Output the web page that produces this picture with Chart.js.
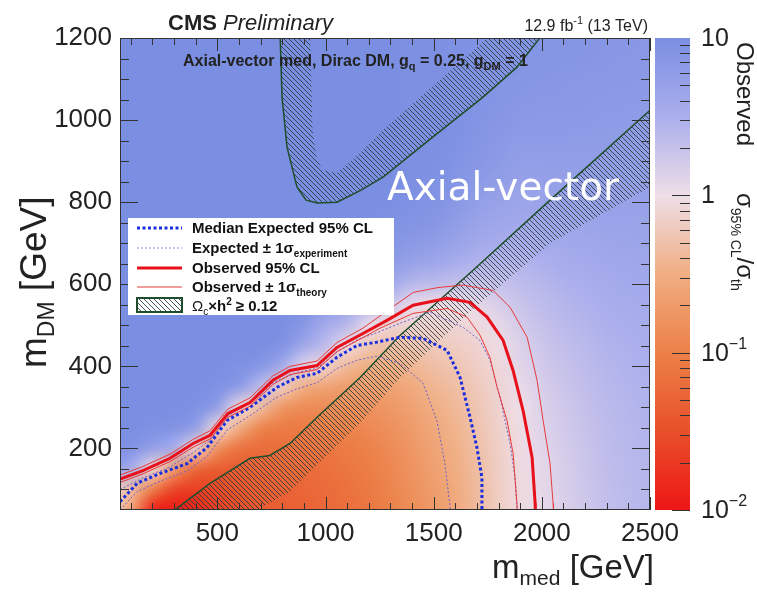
<!DOCTYPE html>
<html>
<head>
<meta charset="utf-8">
<script src="https://cdn.jsdelivr.net/npm/chart.js@4.4.1/dist/chart.umd.min.js"></script>
<style>
  html, body { margin: 0; padding: 0; background: #fff; }
  #wrap { width: 757px; height: 592px; }
</style>
</head>
<body>
<div id="wrap"><canvas id="chart" width="757" height="592"></canvas></div>
<script>
// axis ticks
const xTicks = [500, 1000, 1500, 2000, 2500];
const yTicks = [200, 400, 600, 800, 1000, 1200];
const cbarTicks = [0.01, 0.1, 1, 10];

// observed limit (thick red) and +-1 sigma theory
const obsX = [50, 156, 281, 388, 466, 549, 651, 757, 836, 961, 1053, 1173, 1284, 1405, 1562, 1668, 1747, 1821, 1867, 1913, 1955, 1969, 1970];
const obsY = [125, 146, 176, 212, 232, 285, 312, 366, 390, 402, 446, 480, 512, 549, 566, 556, 520, 463, 390, 293, 178, 66, 45];
const obsUpX = [50, 156, 281, 388, 466, 549, 651, 757, 836, 961, 1053, 1173, 1284, 1405, 1520, 1636, 1774, 1853, 1932, 1978, 2006, 2038, 2052, 2054];
const obsUpY = [135, 156, 186, 222, 243, 296, 323, 377, 400, 413, 458, 493, 535, 580, 592, 598, 585, 544, 471, 366, 268, 163, 66, 45];
const obsDnX = [50, 156, 281, 388, 466, 549, 651, 757, 836, 961, 1053, 1173, 1252, 1405, 1562, 1654, 1714, 1760, 1793, 1839, 1867, 1885, 1886];
const obsDnY = [117, 138, 168, 203, 223, 276, 303, 356, 380, 392, 436, 470, 493, 529, 541, 520, 476, 422, 349, 268, 188, 66, 45];

// expected limit (blue dotted) and +-1 sigma experiment
const expX = [50, 129, 235, 360, 452, 545, 651, 776, 868, 961, 1053, 1146, 1238, 1344, 1451, 1562, 1622, 1668, 1700, 1723, 1723];
const expY = [70, 115, 139, 163, 202, 268, 300, 349, 373, 383, 422, 451, 459, 471, 468, 439, 373, 276, 202, 129, 45];
const expUpX = [50, 156, 281, 388, 466, 549, 651, 757, 868, 961, 1053, 1146, 1238, 1344, 1483, 1636, 1714, 1760, 1807, 1853, 1876, 1885, 1885];
const expUpY = [100, 128, 155, 190, 220, 280, 310, 360, 385, 395, 435, 465, 482, 505, 532, 495, 463, 415, 324, 212, 129, 56, 45];
const expDnX = [50, 129, 235, 360, 452, 545, 651, 776, 868, 961, 1053, 1146, 1238, 1344, 1451, 1515, 1552, 1576, 1577];
const expDnY = [50, 95, 120, 145, 180, 245, 280, 325, 345, 360, 395, 415, 425, 407, 359, 268, 163, 56, 45];

// relic density contours (Omega h^2 >= 0.12), line + hatched side
const relicDiagX = [290, 466, 651, 743, 836, 961, 1160, 1344, 1682, 2038, 2500];
const relicDiagY = [45, 115, 176, 183, 212, 276, 373, 475, 634, 805, 1024];
const relicDiagEdgeX = [2500, 2038, 1682, 1344, 1160, 961, 836, 665];
const relicDiagEdgeY = [837, 700, 540, 372, 262, 160, 95, 45];
const relicVX = [790, 799, 822, 868, 910, 961, 1053, 1160, 1266, 1497, 1728, 1885, 2005];
const relicVY = [1210, 1056, 934, 837, 805, 798, 800, 828, 861, 959, 1056, 1129, 1210];
const relicVEdgeX = [1770, 1266, 1150, 1053, 990, 961, 940, 929];
const relicVEdgeY = [1210, 976, 915, 871, 878, 902, 976, 1210];

// observed sigma95/sigma_th, log10, one column per m_med, rows m_DM = 50..1200
const gridX = [0, 100, 200, 300, 400, 500, 600, 700, 800, 900, 1000, 1100, 1200, 1300, 1400, 1500, 1600, 1700, 1800, 1900, 2000, 2100, 2200, 2300, 2400, 2500];
const gridY = [50, 100, 150, 200, 250, 300, 350, 400, 450, 500, 550, 600, 650, 700, 750, 800, 850, 900, 950, 1000, 1050, 1100, 1150, 1200];
const logRatio = [
  [-0.2, -0.1, 0.7, 0.97, 1, 1, 1, 1, 1, 1, 1, 1, 1, 1, 1, 1, 1, 1, 1, 1, 1, 1, 1, 1],
  [-0.6, -0.35, 0.55, 0.93, 1, 1, 1, 1, 1, 1, 1, 1, 1, 1, 1, 1, 1, 1, 1, 1, 1, 1, 1, 1],
  [-1.9, -1.0, -0.1, 0.72, 0.97, 1, 1, 1, 1, 1, 1, 1, 1, 1, 1, 1, 1, 1, 1, 1, 1, 1, 1, 1],
  [-1.95, -1.6, -0.7, 0.5, 0.93, 1, 1, 1, 1, 1, 1, 1, 1, 1, 1, 1, 1, 1, 1, 1, 1, 1, 1, 1],
  [-1.85, -1.65, -1.25, -0.15, 0.75, 0.97, 1, 1, 1, 1, 1, 1, 1, 1, 1, 1, 1, 1, 1, 1, 1, 1, 1, 1],
  [-1.65, -1.55, -1.38, -0.8, -0.1, 0.75, 0.97, 1, 1, 1, 1, 1, 1, 1, 1, 1, 1, 1, 1, 1, 1, 1, 1, 1],
  [-1.5, -1.45, -1.35, -1.15, -0.5, -0.05, 0.8, 0.97, 1, 1, 1, 1, 1, 1, 1, 1, 1, 1, 1, 1, 1, 1, 1, 1],
  [-1.4, -1.35, -1.3, -1.2, -0.95, -0.35, 0.35, 0.88, 1, 1, 1, 1, 1, 1, 1, 1, 1, 1, 1, 1, 1, 1, 1, 1],
  [-1.35, -1.3, -1.25, -1.18, -1.05, -0.75, -0.2, 0.55, 0.93, 1, 1, 1, 1, 1, 1, 1, 1, 1, 1, 1, 1, 1, 1, 1],
  [-1.3, -1.27, -1.22, -1.15, -1.05, -0.88, -0.5, 0.1, 0.6, 0.85, 0.96, 1, 1, 1, 1, 1, 1, 1, 1, 1, 1, 1, 1, 1],
  [-1.25, -1.22, -1.18, -1.1, -1.0, -0.87, -0.62, -0.15, 0.35, 0.55, 0.82, 0.95, 1, 1, 1, 1, 1, 1, 1, 1, 1, 1, 1, 1],
  [-1.18, -1.15, -1.1, -1.05, -0.97, -0.85, -0.68, -0.4, -0.05, 0.4, 0.68, 0.86, 0.95, 1, 1, 1, 1, 1, 1, 1, 1, 1, 1, 1],
  [-1.1, -1.07, -1.03, -0.98, -0.9, -0.8, -0.67, -0.5, -0.25, 0.03, 0.42, 0.7, 0.85, 0.95, 1, 1, 1, 1, 1, 1, 1, 1, 1, 1],
  [-0.98, -0.95, -0.92, -0.88, -0.82, -0.74, -0.63, -0.5, -0.33, -0.1, 0.25, 0.6, 0.8, 0.9, 0.95, 1, 1, 1, 1, 1, 1, 1, 1, 1],
  [-0.85, -0.82, -0.79, -0.75, -0.7, -0.63, -0.54, -0.42, -0.28, -0.12, 0.05, 0.4, 0.68, 0.83, 0.92, 0.96, 0.98, 0.98, 0.98, 0.98, 0.98, 0.98, 0.98, 0.98],
  [-0.72, -0.69, -0.65, -0.61, -0.56, -0.5, -0.42, -0.33, -0.22, -0.12, -0.03, 0.35, 0.62, 0.78, 0.88, 0.93, 0.96, 0.98, 0.98, 0.98, 0.98, 0.98, 0.98, 0.98],
  [-0.56, -0.54, -0.51, -0.48, -0.44, -0.39, -0.33, -0.26, -0.18, -0.1, -0.02, 0.3, 0.52, 0.68, 0.78, 0.86, 0.91, 0.94, 0.96, 0.97, 0.97, 0.97, 0.97, 0.97],
  [-0.37, -0.36, -0.34, -0.32, -0.29, -0.26, -0.22, -0.17, -0.12, -0.05, 0.06, 0.26, 0.44, 0.58, 0.68, 0.76, 0.82, 0.87, 0.9, 0.92, 0.94, 0.95, 0.95, 0.95],
  [-0.18, -0.18, -0.17, -0.16, -0.14, -0.12, -0.1, -0.07, -0.02, 0.06, 0.17, 0.3, 0.42, 0.53, 0.62, 0.7, 0.76, 0.81, 0.85, 0.88, 0.9, 0.92, 0.93, 0.94],
  [-0.05, -0.05, -0.04, -0.03, -0.02, 0, 0.04, 0.09, 0.14, 0.2, 0.27, 0.35, 0.43, 0.51, 0.58, 0.65, 0.71, 0.76, 0.8, 0.84, 0.87, 0.89, 0.91, 0.92],
  [0.05, 0.06, 0.07, 0.09, 0.11, 0.14, 0.17, 0.21, 0.25, 0.3, 0.35, 0.41, 0.48, 0.55, 0.61, 0.67, 0.72, 0.76, 0.8, 0.83, 0.86, 0.88, 0.9, 0.91],
  [0.15, 0.16, 0.17, 0.19, 0.21, 0.23, 0.26, 0.29, 0.33, 0.37, 0.42, 0.47, 0.53, 0.58, 0.63, 0.68, 0.72, 0.76, 0.8, 0.83, 0.85, 0.87, 0.89, 0.9],
  [0.24, 0.25, 0.26, 0.27, 0.29, 0.31, 0.33, 0.36, 0.39, 0.43, 0.47, 0.51, 0.56, 0.6, 0.65, 0.69, 0.73, 0.76, 0.79, 0.82, 0.84, 0.86, 0.88, 0.89],
  [0.32, 0.33, 0.34, 0.35, 0.36, 0.38, 0.4, 0.42, 0.45, 0.48, 0.52, 0.55, 0.59, 0.63, 0.67, 0.7, 0.73, 0.76, 0.79, 0.81, 0.83, 0.85, 0.87, 0.88],
  [0.38, 0.38, 0.39, 0.4, 0.41, 0.42, 0.44, 0.46, 0.48, 0.51, 0.54, 0.57, 0.61, 0.64, 0.67, 0.7, 0.73, 0.76, 0.78, 0.8, 0.82, 0.84, 0.86, 0.87],
  [0.42, 0.42, 0.43, 0.44, 0.45, 0.46, 0.47, 0.49, 0.51, 0.53, 0.56, 0.59, 0.62, 0.65, 0.68, 0.71, 0.73, 0.75, 0.77, 0.79, 0.81, 0.83, 0.85, 0.86]
];

const FONT = "'Liberation Sans', Arial, sans-serif";

// colour palette of the z axis, by log10 value
const paletteLog = [-2, -1.5, -1, -0.5, 0, 0.5, 1];
const paletteRGB = [[238, 22, 22], [232, 80, 42], [236, 128, 72], [240, 174, 130], [238, 222, 232], [170, 174, 236], [123, 143, 226]];

function ratioColor(v) {
  if (v <= paletteLog[0]) return paletteRGB[0];
  for (let i = 1; i < paletteLog.length; i++) {
    if (v <= paletteLog[i]) {
      const t = (v - paletteLog[i - 1]) / (paletteLog[i] - paletteLog[i - 1]);
      const a = paletteRGB[i - 1], b = paletteRGB[i];
      return a.map((c, k) => Math.round(c + (b[k] - c) * t));
    }
  }
  return paletteRGB[paletteRGB.length - 1];
}

const pts = (xs, ys) => xs.map((x, i) => ({ x, y: ys[i] }));

const canvas = document.getElementById('chart');
const ctx = canvas.getContext('2d');

function makeHatch(color) {
  const s = 5;
  const c = document.createElement('canvas');
  c.width = s; c.height = s;
  const g = c.getContext('2d');
  g.strokeStyle = color;
  g.lineWidth = 1;
  g.beginPath();
  g.moveTo(-1, -1); g.lineTo(s + 1, s + 1);
  g.moveTo(-1, s - 1); g.lineTo(1, s + 1);
  g.moveTo(s - 1, -1); g.lineTo(s + 1, 1);
  g.stroke();
  return ctx.createPattern(c, 'repeat');
}
const hatch = makeHatch('rgba(40,58,58,0.85)');

// draws text pieces one after another: [text, size, style, dy]
function drawParts(c, parts, x, y, align) {
  let total = 0;
  parts.forEach(p => { c.font = `${p[2] || ''} ${p[1]}px ${FONT}`; total += c.measureText(p[0]).width; });
  if (align === 'right') x -= total;
  c.textAlign = 'left';
  parts.forEach(p => {
    c.font = `${p[2] || ''} ${p[1]}px ${FONT}`;
    c.fillText(p[0], x, y + (p[3] || 0));
    x += c.measureText(p[0]).width;
  });
}

const heatmapPlugin = {
  id: 'heatmap',
  beforeDatasetsDraw(chart) {
    const { ctx: c, chartArea: a, scales: { x, y } } = chart;
    const img = document.createElement('canvas');
    img.width = gridX.length;
    img.height = gridY.length;
    const ic = img.getContext('2d');
    const d = ic.createImageData(img.width, img.height);
    gridX.forEach((gx, i) => {
      gridY.forEach((gy, j) => {
        const rgb = ratioColor(logRatio[i][j]);
        const k = ((gridY.length - 1 - j) * img.width + i) * 4;
        d.data[k] = rgb[0]; d.data[k + 1] = rgb[1]; d.data[k + 2] = rgb[2]; d.data[k + 3] = 255;
      });
    });
    ic.putImageData(d, 0, 0);
    const dx = gridX[1] - gridX[0], dy = gridY[1] - gridY[0];
    const left = x.getPixelForValue(gridX[0] - dx / 2);
    const right = x.getPixelForValue(gridX[gridX.length - 1] + dx / 2);
    const top = y.getPixelForValue(gridY[gridY.length - 1] + dy / 2);
    const bottom = y.getPixelForValue(gridY[0] - dy / 2);
    c.save();
    c.beginPath();
    c.rect(a.left, a.top, a.right - a.left, a.bottom - a.top);
    c.clip();
    c.imageSmoothingEnabled = true;
    c.imageSmoothingQuality = 'high';
    c.drawImage(img, left, top, right - left, bottom - top);
    c.restore();
  }
};

const decorPlugin = {
  id: 'decor',
  afterDatasetsDraw(chart) {
    const { ctx: c, chartArea: a, scales: { x, y } } = chart;
    c.save();
    c.strokeStyle = '#333';
    c.lineWidth = 1;
    c.beginPath();
    for (let v = 100; v <= 2500; v += 100) {
      const px = Math.round(x.getPixelForValue(v)) + 0.5;
      const len = v % 500 === 0 ? 13 : 7;
      c.moveTo(px, a.bottom); c.lineTo(px, a.bottom - len);
      c.moveTo(px, a.top); c.lineTo(px, a.top + len);
    }
    for (let v = 100; v <= 1200; v += 50) {
      const py = Math.round(y.getPixelForValue(v)) + 0.5;
      const len = v % 200 === 0 ? 18 : 9;
      c.moveTo(a.left, py); c.lineTo(a.left + len, py);
      c.moveTo(a.right, py); c.lineTo(a.right - len, py);
    }
    c.stroke();
    c.strokeRect(a.left + 0.5, a.top + 0.5, a.right - a.left - 1, a.bottom - a.top - 1);
    c.restore();
  },
  afterDraw(chart) {
    const { ctx: c, chartArea: a, scales } = chart;
    const cb = scales.cbar;
    c.save();

    // colour bar
    const x0 = a.right + 5, x1 = a.right + 40;
    const yTop = cb.getPixelForValue(10), yBot = cb.getPixelForValue(0.01);
    const grad = c.createLinearGradient(0, yBot, 0, yTop);
    paletteLog.forEach((v, i) => {
      grad.addColorStop((v - paletteLog[0]) / (paletteLog[paletteLog.length - 1] - paletteLog[0]), `rgb(${paletteRGB[i].join(',')})`);
    });
    c.fillStyle = grad;
    c.fillRect(x0, yTop, x1 - x0, yBot - yTop);
    c.strokeStyle = '#333';
    c.lineWidth = 1;
    c.beginPath();
    for (let e = -2; e < 1; e++) {
      for (let k = 1; k <= 9; k++) {
        const py = Math.round(cb.getPixelForValue(k * Math.pow(10, e))) + 0.5;
        const len = k === 1 ? 18 : 10;
        c.moveTo(x1, py); c.lineTo(x1 - len, py);
      }
    }
    c.stroke();
    c.fillStyle = '#222';
    c.textBaseline = 'middle';
    const cbLabels = [[['10', 25], ['\u22122', 16, '', -9]], [['10', 25], ['\u22121', 16, '', -9]], [['1', 25]], [['10', 25]]];
    cbarTicks.forEach((v, i) => drawParts(c, cbLabels[i], x1 + 11, cb.getPixelForValue(v) + 1));

    c.textBaseline = 'alphabetic';
    // colour bar title
    c.save();
    c.translate(737, 42);
    c.rotate(Math.PI / 2);
    drawParts(c, [['Observed', 24]], 0, 0);
    drawParts(c, [['\u03c3', 24], ['95% CL', 14, '', 6], ['/\u03c3', 24], ['th', 14, '', 6]], 151, 0);
    c.restore();

    // axis titles
    c.save();
    c.translate(46, 368);
    c.rotate(-Math.PI / 2);
    drawParts(c, [['m', 37], ['DM', 23, '', 8], [' [GeV]', 37]], 0, 0);
    c.restore();
    drawParts(c, [['m', 33], ['med', 21, '', 7], [' [GeV]', 33]], 654, 578, 'right');

    // header texts
    drawParts(c, [['CMS', 22, 'bold'], [' ', 22], ['Preliminary', 22, 'italic']], 168, 30);
    drawParts(c, [['12.9 fb', 16], ['-1', 11, '', -7], [' (13 TeV)', 16]], 648, 31, 'right');
    drawParts(c, [['Axial-vector med, Dirac DM, g', 16, 'bold'], ['q', 11, 'bold', 4], [' = 0.25, g', 16, 'bold'], ['DM', 11, 'bold', 4], [' = 1', 16, 'bold']], 183, 66);

    // legend
    c.fillStyle = '#fff';
    c.fillRect(128, 218, 266, 97);
    const lx0 = 137, lx1 = 182, tx = 192;
    const sample = (yy, color, width, dash) => {
      c.beginPath();
      c.setLineDash(dash);
      c.strokeStyle = color;
      c.lineWidth = width;
      c.moveTo(lx0, yy); c.lineTo(lx1, yy);
      c.stroke();
      c.setLineDash([]);
    };
    sample(228, '#1a2ee0', 3, [3, 2.5]);
    sample(248, '#7f8ae6', 1, [2, 2]);
    sample(268, '#e8101a', 3, []);
    sample(287, '#e83a3a', 1, []);
    c.fillStyle = hatch;
    c.fillRect(lx0, 298, lx1 - lx0, 14);
    c.strokeStyle = '#1e4d2b';
    c.lineWidth = 2;
    c.strokeRect(lx0, 298, lx1 - lx0, 14);
    c.fillStyle = '#111';
    drawParts(c, [['Median Expected 95% CL', 15, 'bold']], tx, 233);
    drawParts(c, [['Expected \u00b1 1\u03c3', 15, 'bold'], ['experiment', 10, 'bold', 4]], tx, 253);
    drawParts(c, [['Observed 95% CL', 15, 'bold']], tx, 273);
    drawParts(c, [['Observed \u00b1 1\u03c3', 15, 'bold'], ['theory', 10, 'bold', 4]], tx, 292);
    drawParts(c, [['\u03a9', 15], ['c', 10, '', 4], ['\u00d7h', 15, 'bold'], ['2', 10, 'bold', -6], [' \u2265 0.12', 15, 'bold']], tx, 311);

    // overlay label
    c.fillStyle = '#fff';
    c.font = "39px 'DejaVu Sans', sans-serif";
    c.fillText('Axial-vector', 387, 200);
    c.restore();
  }
};

const lineSet = (xs, ys, color, width, dash) => ({
  data: pts(xs, ys),
  borderColor: color,
  borderWidth: width,
  borderDash: dash,
  pointRadius: 0,
  fill: false
});

new Chart(ctx, {
  type: 'line',
  data: {
    datasets: [
      lineSet(obsX, obsY, '#e8101a', 3, []),
      lineSet(obsUpX, obsUpY, '#e83a3a', 1, []),
      lineSet(obsDnX, obsDnY, '#e83a3a', 1, []),
      lineSet(expX, expY, '#1a2ee0', 3, [3, 2.5]),
      lineSet(expUpX, expUpY, '#6a62c8', 1, [2, 2]),
      lineSet(expDnX, expDnY, '#6a62c8', 1, [2, 2]),
      lineSet(relicDiagX, relicDiagY, '#1e4d2b', 1.5, []),
      lineSet(relicVX, relicVY, '#1e4d2b', 1.5, []),
      {
        data: pts(relicDiagX.concat(relicDiagEdgeX), relicDiagY.concat(relicDiagEdgeY)),
        borderWidth: 0, borderColor: 'transparent', pointRadius: 0,
        backgroundColor: hatch, fill: 'shape'
      },
      {
        data: pts(relicVX.concat(relicVEdgeX), relicVY.concat(relicVEdgeY)),
        borderWidth: 0, borderColor: 'transparent', pointRadius: 0,
        backgroundColor: hatch, fill: 'shape'
      }
    ]
  },
  options: {
    responsive: false,
    animation: false,
    events: [],
    layout: { padding: { left: 0, right: 107, top: 38, bottom: 0 } },
    plugins: { legend: { display: false }, tooltip: { enabled: false } },
    elements: { line: { tension: 0 } },
    scales: {
      x: {
        type: 'linear', min: 50, max: 2500,
        afterBuildTicks: s => { s.ticks = xTicks.map(v => ({ value: v })); },
        afterFit: s => { s.height = 82; },
        grid: { display: false, drawTicks: false },
        border: { display: false },
        ticks: { font: { family: FONT, size: 26 }, color: '#222', padding: 8, maxRotation: 0, autoSkip: false, callback: v => String(v) }
      },
      y: {
        type: 'linear', min: 50, max: 1200,
        afterBuildTicks: s => { s.ticks = yTicks.map(v => ({ value: v })); },
        afterFit: s => { s.width = 120; },
        grid: { display: false, drawTicks: false },
        border: { display: false },
        ticks: { font: { family: FONT, size: 26 }, color: '#222', padding: 8, autoSkip: false, callback: v => String(v) }
      },
      cbar: { type: 'logarithmic', position: 'right', min: 0.01, max: 10, display: false }
    }
  },
  plugins: [heatmapPlugin, decorPlugin]
});
</script>
</body>
</html>
